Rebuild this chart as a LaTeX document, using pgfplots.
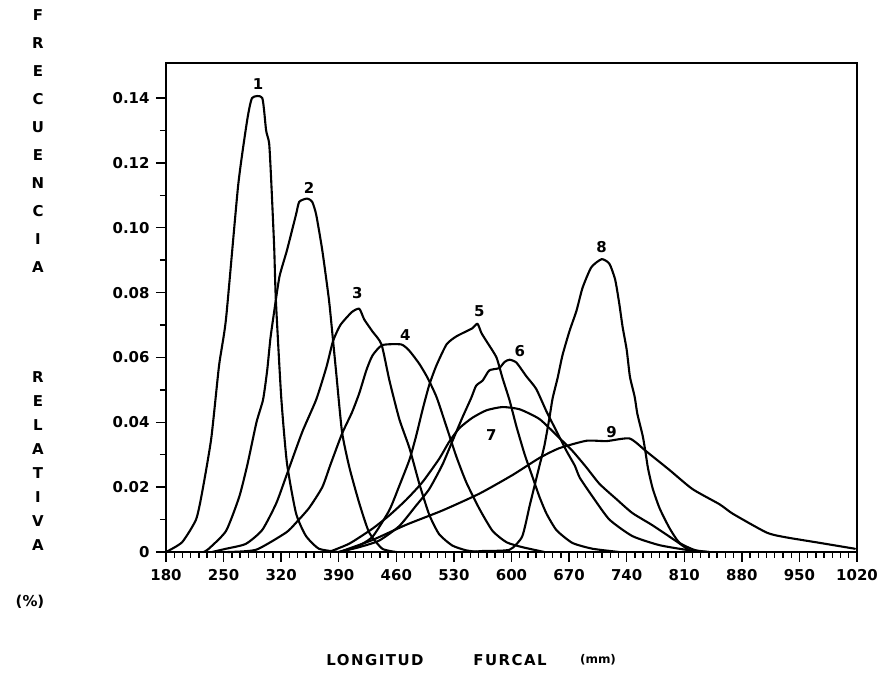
\documentclass[border=0pt]{standalone}
\usepackage{fontspec}
\setmainfont{DejaVu Sans}
\newfontfamily\spaced{DejaVu Sans}[LetterSpace=10]
\usepackage{pgfplots}
\pgfplotsset{compat=1.18}
\tikzset{curve/.style={draw=black, line width=2.1bp, mark=none, smooth, tension=0.35, line join=round, line cap=round}}
\begin{document}
\begin{tikzpicture}[x=1bp,y=1bp]
\useasboundingbox (-166,-137) rectangle (720,552);
\begin{axis}[
  at={(0,0)}, anchor=south west,
  scale only axis, width=691bp, height=489bp,
  xmin=180, xmax=1020, ymin=0, ymax=0.1508,
  xtick={180,250,320,390,460,530,600,670,740,810,880,950,1020},
  xticklabels={180,250,320,390,460,530,600,670,740,810,880,950,1020},
  minor x tick num=6,
  ytick={0,0.02,0.04,0.06,0.08,0.10,0.12,0.14},
  yticklabels={0,0.02,0.04,0.06,0.08,0.10,0.12,0.14},
  minor y tick num=1,
  tick align=outside, tick pos=left,
  major tick length=10bp, minor tick length=6bp,
  every tick/.style={black, line width=1.4bp},
  axis line style={line width=2bp},
  tick label style={font=\bfseries\fontsize{15}{15}\selectfont},
  xticklabel style={yshift=-4bp},
  yticklabel style={xshift=-3bp},
  clip=false,
]
% 1
\addplot[curve] coordinates {(180,0) (199.5,0.003) (216.5,0.010) (224,0.0185) (235,0.035) (244.5,0.0575) (253,0.072) (267.7,0.113) (278.6,0.133) (284.7,0.140) (297,0.140) (301.7,0.130) (305.4,0.126) (307.8,0.115) (311.5,0.094) (313.5,0.078) (320,0.048) (327,0.0275) (338,0.012) (350,0.005) (366,0.001) (390,0)};
% 2
\addplot[curve] coordinates {(226,0) (232,0.001) (253,0.0065) (269,0.017) (279,0.027) (290,0.040) (298,0.047) (303,0.056) (307,0.066) (312,0.075) (318,0.085) (327,0.093) (338,0.104) (342,0.108) (351.6,0.109) (357.7,0.108) (362.6,0.104) (370,0.093) (378,0.078) (382,0.068) (387,0.055) (394,0.037) (403,0.026) (415,0.015) (427,0.006) (443,0.001) (460,0)};
% 3
\addplot[curve] coordinates {(236,0) (253,0.001) (277,0.0025) (297,0.0068) (314,0.015) (327,0.024) (345.6,0.037) (362.6,0.047) (375,0.057) (383,0.065) (392,0.070) (406,0.074) (415,0.075) (421,0.0717) (431,0.068) (442,0.064) (451.5,0.053) (463.6,0.041) (476,0.032) (488,0.021) (500,0.0115) (512,0.0055) (528,0.002) (545,0.0005) (560,0)};
% 4
\addplot[curve] coordinates {(255,0) (289.6,0.0007) (326,0.006) (338,0.009) (354,0.0136) (370,0.020) (380,0.027) (394,0.0365) (406,0.043) (415,0.049) (423.5,0.056) (431,0.0606) (443,0.0638) (466,0.064) (476,0.062) (488,0.058) (498,0.0537) (509,0.0477) (521,0.0386) (533,0.0294) (545,0.0215) (561,0.0133) (577,0.0065) (594,0.003) (613,0.0015) (640,0)};
% 5
\addplot[curve] coordinates {(390.6,0) (411,0.0015) (431,0.0047) (451.5,0.0129) (463.6,0.0204) (476,0.0285) (484,0.0357) (492,0.044) (500,0.0515) (508.7,0.0575) (521,0.064) (533,0.0665) (552.5,0.069) (558.6,0.0704) (563.5,0.0675) (569.6,0.065) (581.7,0.060) (589,0.0537) (597.6,0.0468) (606,0.0387) (616,0.0301) (625.6,0.0231) (634,0.017) (642.6,0.0118) (654.8,0.0067) (674,0.0028) (698.6,0.001) (731,0)};
% 6
\addplot[curve] coordinates {(390.6,0) (415,0.0015) (439,0.0035) (463.6,0.008) (484,0.0143) (500,0.0194) (516,0.0269) (528,0.0341) (540,0.0413) (551,0.0475) (557,0.0513) (565,0.0529) (573,0.056) (585,0.0567) (591.5,0.0586) (597.6,0.0593) (606,0.0584) (618,0.0542) (630,0.0503) (642.6,0.0433) (654.8,0.0372) (667,0.0311) (677,0.0266) (683,0.0229) (699,0.0169) (719,0.010) (747,0.0049) (780,0.0021) (817,0.0005) (840,0)};
% 7
\addplot[curve] coordinates {(378,0) (403,0.0026) (431,0.0072) (451.5,0.0113) (472,0.0161) (491.6,0.0215) (512,0.0287) (524.5,0.0341) (536.7,0.0382) (552.5,0.0414) (569.6,0.0437) (589,0.0447) (610,0.044) (634,0.041) (654.8,0.036) (674,0.0312) (691,0.0261) (707,0.021) (728,0.0162) (747,0.012) (771.6,0.0082) (801,0.0032) (816.7,0.0005) (830,0)};
% 8
\addplot[curve] coordinates {(550,0) (564.7,0.0003) (597.6,0.0007) (613,0.0048) (622,0.0142) (628,0.0204) (634,0.0266) (640,0.0328) (646,0.0412) (650,0.0474) (656,0.0536) (662,0.0607) (670.6,0.0682) (679,0.0744) (686.4,0.0815) (697,0.0878) (709.6,0.0903) (719,0.0889) (726,0.084) (731,0.0766) (735,0.0695) (740,0.0624) (744,0.054) (749.7,0.0479) (753,0.0426) (759.5,0.0358) (763,0.0306) (766,0.0257) (771.6,0.0196) (780,0.0135) (792,0.0074) (804,0.0029) (822.8,0.0006) (840,0)};
% 9
\addplot[curve] coordinates {(390.6,0) (431,0.0037) (472,0.0084) (516,0.0128) (561,0.018) (601,0.0237) (634,0.029) (658,0.032) (691,0.0343) (715.6,0.0342) (743.6,0.035) (764,0.031) (792,0.0253) (820,0.0194) (853,0.0147) (869,0.0118) (910,0.006) (932,0.0046) (975,0.0028) (1017.6,0.001)};
\begin{scope}[every node/.style={font=\bfseries\fontsize{15}{15}\selectfont}]
\node at (axis cs:292,0.1442) {1};
\node at (axis cs:354,0.1123) {2};
\node at (axis cs:412.5,0.080) {3};
\node at (axis cs:471,0.067) {4};
\node at (axis cs:561,0.0744) {5};
\node at (axis cs:610,0.0619) {6};
\node at (axis cs:575.6,0.036) {7};
\node at (axis cs:709.6,0.094) {8};
\node at (axis cs:721.7,0.0371) {9};
\end{scope}
\end{axis}
\begin{scope}[every node/.style={font=\bfseries\fontsize{15}{15}\selectfont}]
\foreach \l [count=\i from 0] in {F,R,E,C,U,E,N,C,I,A}
  \node at (-128,{537-28*\i}) {\l};
\foreach \l [count=\i from 0] in {R,E,L,A,T,I,V,A}
  \node at (-128,{175-24*\i}) {\l};
\node at (-136,-50) {(\%)};
\node at (209,-108) {\spaced LONGITUD};
\node at (344,-108) {\spaced FURCAL};
\node at (432,-108) {\fontsize{12}{12}\selectfont (mm)};
\end{scope}
\end{tikzpicture}
\end{document}
